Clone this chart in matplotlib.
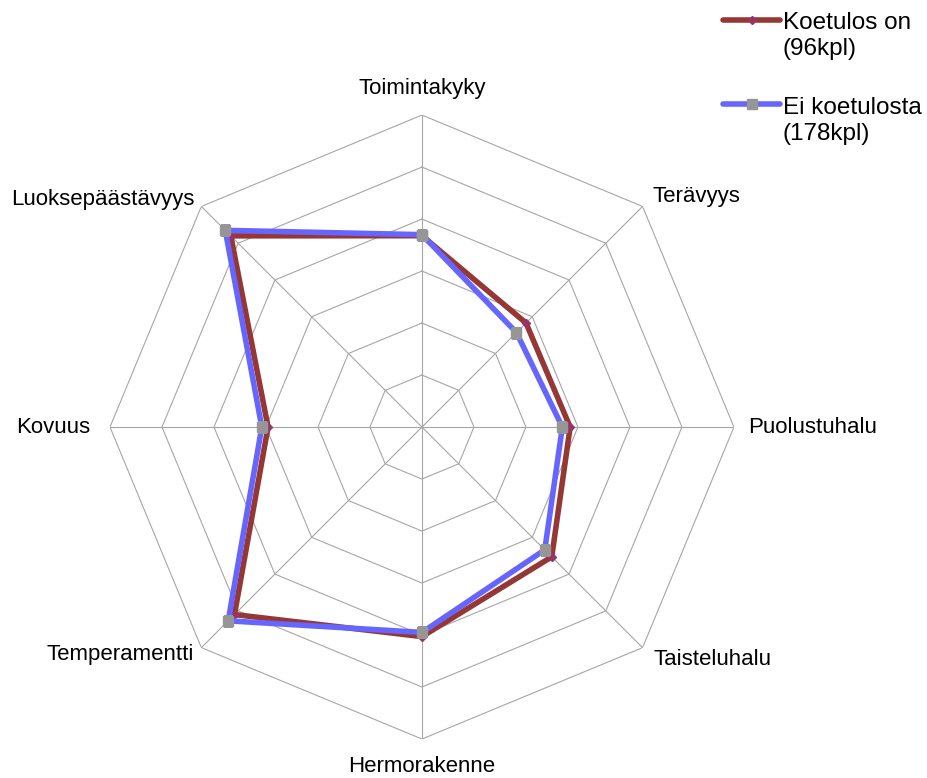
import numpy as np
import matplotlib
matplotlib.use("Agg")
import matplotlib.pyplot as plt
from matplotlib.lines import Line2D

plt.rcParams['font.family'] = ['Liberation Sans', 'DejaVu Sans']

categories = ['Toimintakyky', 'Terävyys', 'Puolustuhalu', 'Taisteluhalu',
              'Hermorakenne', 'Temperamentti', 'Kovuus', 'Luoksepäästävyys']
koetulos_on = [3.68, 2.83, 2.85, 3.53, 4.03, 5.10, 2.96, 5.20]
ei_koetulosta = [3.70, 2.57, 2.70, 3.34, 3.95, 5.27, 3.08, 5.35]
series_names = [('Koetulos on', '(96kpl)'), ('Ei koetulosta', '(178kpl)')]
rings = [1, 2, 3, 4, 5, 6]

W, H = 928, 778
fig = plt.figure(figsize=(W / 100, H / 100), dpi=100)
ax = fig.add_axes([0.1185, 0.0501, 0.6724, 0.802], projection='polar')
ax.set_theta_zero_location('N')
ax.set_theta_direction(-1)
ax.set_ylim(0, 6)
ax.grid(False)
ax.spines['polar'].set_visible(False)
ax.set_xticks([])
ax.set_yticks([])
ax.patch.set_alpha(0)

n = len(categories)
theta = np.arange(n) * 2 * np.pi / n
theta_c = np.append(theta, theta[0])

grid_color = '#A6A6A6'
for r in rings:
    ax.plot(theta_c, [r] * (n + 1), color=grid_color, lw=0.8, zorder=1)
for t in theta:
    ax.plot([t, t], [0, rings[-1]], color=grid_color, lw=0.8, zorder=1)

red = '#953735'
blue = '#6666FF'
red_style = dict(color=red, lw=4.0, marker='D', markersize=4.5,
                 markerfacecolor='#993366', markeredgecolor='#993366',
                 solid_joinstyle='miter', solid_capstyle='round')
blue_style = dict(color=blue, lw=4.0, marker='s', markersize=7.5,
                  markerfacecolor='#969696', markeredgecolor='#969696',
                  solid_joinstyle='miter', solid_capstyle='round')
ax.plot(theta_c, koetulos_on + [koetulos_on[0]], zorder=3, **red_style)
ax.plot(theta_c, ei_koetulosta + [ei_koetulosta[0]], zorder=4, **blue_style)

label_pos = [
    (6.52, 'center', 'center'),
    (6.26, 'left', 'center'),
    (6.27, 'left', 'center'),
    (6.31, 'left', 'center'),
    (6.52, 'center', 'center'),
    (6.20, 'right', 'center'),
    (6.37, 'right', 'center'),
    (6.20, 'right', 'center'),
]
for t, lab, (r, ha, va) in zip(theta, categories, label_pos):
    ax.text(t, r, lab, ha=ha, va=va, fontsize=16, color='black')

# legend (manual layout: handle aligned with first text line)
legend_rows = [(20, 28.8, 55.3), (104.3, 113.5, 139.7)]
for (name1, name2), style, (hy, b1, b2) in zip(series_names, [red_style, blue_style], legend_rows):
    x0, x1 = 723 / W, 780 / W
    fig.add_artist(Line2D([x0, (x0 + x1) / 2, x1], [1 - hy / H] * 3,
                          transform=fig.transFigure, markevery=[1], **style))
    fig.text(783 / W, 1 - b1 / H, name1, fontsize=17.5, va='baseline', ha='left')
    fig.text(783 / W, 1 - b2 / H, name2, fontsize=17.5, va='baseline', ha='left')

fig.savefig('out.png', dpi=100)
